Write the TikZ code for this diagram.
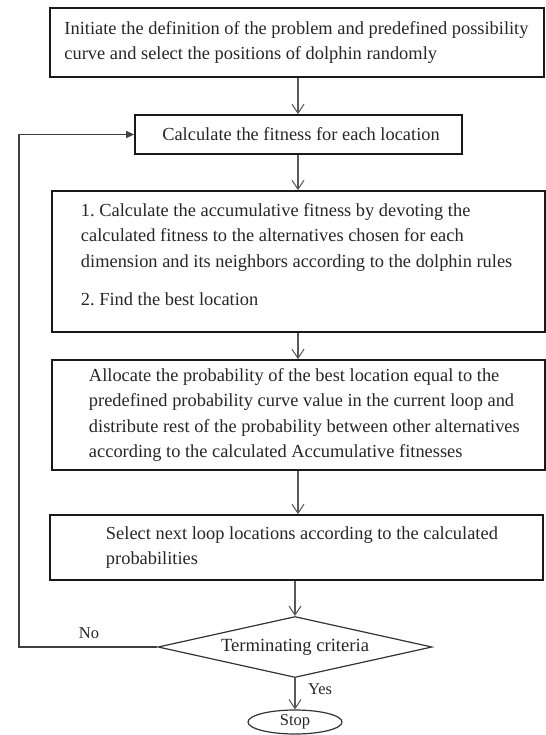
\documentclass[tikz,border=0pt]{standalone}
\usepackage{fontspec}
\setmainfont{Liberation Serif}
\usetikzlibrary{arrows.meta,shapes.geometric}
\frenchspacing
\newcommand{\boxtext}[2]{\hspace*{#1}\parbox[c]{\dimexpr 493bp-#1\relax}{\raggedright\frenchspacing #2}}
\tikzset{
  procbox/.style={draw=black!90, line width=1.7bp, rectangle, inner xsep=0pt, inner ysep=0pt,
    anchor=center, font=\fontsize{18.4bp}{25.5bp}\selectfont, text=black!85},
  flowarr/.style={draw=black!65, line width=1.1bp, -{Straight Barb[length=9bp,width=12bp,line width=1bp]}},
  looparr/.style={draw=black!75, line width=1.2bp, -{Triangle[length=8bp,width=7bp]}},
  lbl/.style={font=\fontsize{16.5bp}{19bp}\selectfont, text=black!85, inner sep=0pt}
}
\begin{document}
\begin{tikzpicture}[x=1bp,y=-1bp]
\useasboundingbox (0,0) rectangle (546,735);
\node[procbox, minimum width=494bp, minimum height=69bp] (b1) at (297,42.5)
  {\boxtext{14bp}{Initiate the definition of the problem and predefined possibility\\curve and select the positions of dolphin randomly}};
\node[procbox, minimum width=327bp, minimum height=39bp] (b2) at (298.5,134.5)
  {\hspace*{5bp}Calculate the fitness for each location};
\node[procbox, minimum width=493bp, minimum height=141bp] (b3) at (298.5,261.5)
  {\boxtext{29bp}{1. Calculate the accumulative fitness by devoting the\\calculated fitness to the alternatives chosen for each\\dimension and its neighbors according to the dolphin rules\\[13bp]2. Find the best location\par\vspace{14bp}}};
\node[procbox, minimum width=493bp, minimum height=110bp] (b4) at (298.5,415)
  {\boxtext{37bp}{Allocate the probability of the best location equal to the\\predefined probability curve value in the current loop and\\distribute rest of the probability between other alternatives\\according to the calculated Accumulative fitnesses}};
\node[procbox, minimum width=493bp, minimum height=65bp] (b5) at (296.5,547.5)
  {\boxtext{56bp}{Select next loop locations according to the calculated\\probabilities}};
\node[draw=black!80, line width=1.2bp, diamond, aspect=4.5, minimum width=274bp, minimum height=61bp,
  inner sep=0pt, font=\fontsize{18.6bp}{22bp}\selectfont, text=black!85] (d) at (295,647) {Terminating criteria};
\node[draw=black!80, line width=1.2bp, ellipse, minimum width=94bp, minimum height=24bp, inner sep=0pt,
  font=\fontsize{16.5bp}{19bp}\selectfont, text=black!85] (stop) at (295,722) {Stop};
\coordinate (ax) at (298,0);
\coordinate (lx) at (19,0);
\draw[flowarr] (b1.south -| ax) -- (b2.north -| ax);
\draw[flowarr] (b2.south -| ax) -- (b3.north -| ax);
\draw[flowarr] (b3.south -| ax) -- (b4.north -| ax);
\draw[flowarr] (b4.south -| ax) -- (b5.north -| ax);
\draw[flowarr] (b5.south -| d.north) -- (d.north);
\draw[flowarr] (d.south) -- (stop.north);
\draw[looparr] (d.west) -- (d.west -| lx) |- (b2.west);
\node[lbl] (no) at (89,633) {No};
\node[lbl] (yes) at (320,689) {Yes};
\end{tikzpicture}
\end{document}
